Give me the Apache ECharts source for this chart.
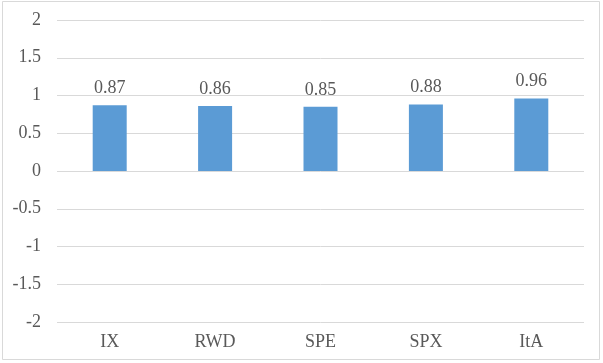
<!DOCTYPE html>
<html><head><meta charset="utf-8">
<style>html,body{margin:0;padding:0;background:#fff}#c{width:603px;height:363px}</style>
<script src="https://cdn.jsdelivr.net/npm/echarts@6/dist/echarts.min.js"></script>
</head><body><div id="c"></div>
<script>
const categories = ['IX', 'RWD', 'SPE', 'SPX', 'ItA'];
const values = [0.87, 0.86, 0.85, 0.88, 0.96];
const yMin = -2, yMax = 2, yStep = 0.5;

const chart = echarts.init(document.getElementById('c'), null, {renderer: 'canvas'});
const font = '"Liberation Serif", "Times New Roman", serif';
chart.setOption({
  animation: false,
  backgroundColor: '#fff',
  graphic: [{type: 'rect', shape: {x: 2.5, y: 1.5, width: 597, height: 358}, style: {fill: 'none', stroke: '#D9D9D9', lineWidth: 1}}],
  grid: {left: 57, right: 19, top: 20, bottom: 41},
  xAxis: {
    type: 'category', data: categories,
    axisLine: {show: false}, axisTick: {show: false},
    axisLabel: {color: '#595959', fontFamily: font, fontSize: 18, margin: 11}
  },
  yAxis: {
    type: 'value', min: yMin, max: yMax, interval: yStep,
    axisLine: {show: false}, axisTick: {show: false},
    splitLine: {lineStyle: {color: '#D9D9D9', width: 1}},
    axisLabel: {color: '#595959', fontFamily: font, fontSize: 18, margin: 16}
  },
  series: [{
    type: 'bar', data: values, barWidth: 34,
    itemStyle: {color: '#5B9BD5'},
    label: {show: true, position: 'top', distance: 8, color: '#595959', fontFamily: font, fontSize: 18,
      formatter: p => p.value.toFixed(2)}
  }]
});
</script></body></html>
